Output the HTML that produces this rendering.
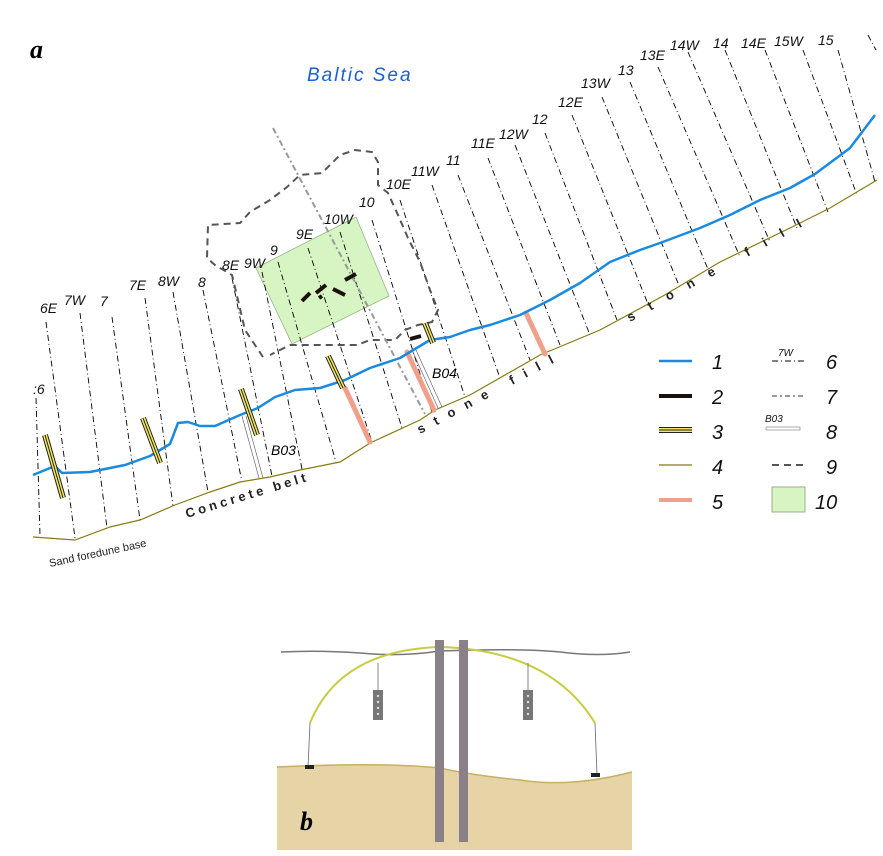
<!DOCTYPE html>
<html><head><meta charset="utf-8"><style>body{margin:0;background:#fff}svg{display:block}</style></head><body>
<svg width="883" height="856" viewBox="0 0 883 856" xmlns="http://www.w3.org/2000/svg" font-family="Liberation Sans, sans-serif">
<text x="30" y="58" font-family="Liberation Serif, serif" font-style="italic" font-weight="bold" font-size="26">a</text>
<text x="307" y="81" fill="#1a5fd0" font-size="19" font-style="italic" letter-spacing="2">Baltic Sea</text>
<polygon points="256,268 356,217 389,296 292,344" fill="#d6f5c2" stroke="#9ab08a" stroke-width="0.8"/>
<g stroke="#000" stroke-width="0.9" stroke-dasharray="6,3,1,3" fill="none">
<line x1="36" y1="398" x2="40" y2="535"/><line x1="46" y1="322" x2="75" y2="538"/>
<line x1="80" y1="313" x2="107" y2="528"/><line x1="112" y1="317" x2="140" y2="520"/>
<line x1="145" y1="298" x2="173" y2="506"/><line x1="173" y1="292" x2="208" y2="492"/>
<line x1="203" y1="290" x2="242" y2="482"/><line x1="232" y1="278" x2="272" y2="476"/>
<line x1="262" y1="272" x2="302" y2="469"/><line x1="278" y1="262" x2="336" y2="462"/>
<line x1="308" y1="248" x2="372" y2="442"/><line x1="340" y1="232" x2="402" y2="428"/>
<line x1="372" y1="220" x2="432" y2="412"/><line x1="400" y1="200" x2="465" y2="397"/>
<line x1="432" y1="185" x2="500" y2="378"/><line x1="458" y1="175" x2="530" y2="360"/>
<line x1="488" y1="158" x2="560" y2="345"/><line x1="515" y1="145" x2="590" y2="335"/>
<line x1="545" y1="133" x2="617" y2="320"/><line x1="572" y1="115" x2="648" y2="304"/>
<line x1="602" y1="97" x2="680" y2="288"/><line x1="630" y1="82" x2="710" y2="274"/>
<line x1="658" y1="67" x2="740" y2="257"/><line x1="688" y1="52" x2="770" y2="242"/>
<line x1="725" y1="50" x2="797" y2="228"/><line x1="765" y1="50" x2="828" y2="212"/>
<line x1="803" y1="50" x2="857" y2="195"/><line x1="838" y1="50" x2="875" y2="182"/>
<line x1="868" y1="35" x2="876" y2="50"/>
</g>
<g font-size="14" font-style="italic" fill="#111">
<text x="33" y="394">:6</text><text x="40" y="313">6E</text><text x="64" y="305">7W</text><text x="100" y="306">7</text>
<text x="129" y="290">7E</text><text x="158" y="286">8W</text><text x="198" y="287">8</text>
<text x="222" y="270">8E</text><text x="244" y="268">9W</text><text x="270" y="255">9</text>
<text x="296" y="239">9E</text><text x="324" y="224">10W</text><text x="359" y="207">10</text>
<text x="386" y="189">10E</text><text x="411" y="176">11W</text><text x="446" y="165">11</text>
<text x="471" y="148">11E</text><text x="499" y="139">12W</text><text x="532" y="124">12</text>
<text x="558" y="107">12E</text><text x="581" y="88">13W</text><text x="618" y="75">13</text>
<text x="640" y="60">13E</text><text x="670" y="50">14W</text><text x="713" y="48">14</text>
<text x="741" y="48">14E</text><text x="774" y="46">15W</text><text x="818" y="45">15</text>
</g>
<polyline points="263,357 255,345 245,330 238,300 232,275 215,265 207,258 208,225 240,223 250,212 270,200 287,187 300,175 322,173 340,155 355,150 372,152 378,162 378,185 388,193 398,215 408,238 420,262 430,290 438,310 432,322 418,325 405,330 395,340 370,340 357,345 290,345 270,355" fill="none" stroke="#555" stroke-width="2" stroke-dasharray="7,5"/>
<line x1="273" y1="128" x2="425" y2="414" stroke="#999" stroke-width="2" stroke-dasharray="6,3,2,3"/>
<polyline points="33,537 75,540 110,527 140,520 175,505 210,492 240,482 270,477 300,470 340,462 370,443 420,420 435,410 470,395 540,355 600,330 663,296 720,262 790,228 830,208 877,180" fill="none" stroke="#8a7a12" stroke-width="1.2"/>
<g stroke="#555" stroke-width="0.6" fill="none">
<line x1="242" y1="416" x2="259" y2="478"/><line x1="246" y1="416" x2="263" y2="478"/>
<line x1="412" y1="350" x2="438" y2="408"/><line x1="416" y1="350" x2="442" y2="407"/>
</g>
<text x="271" y="455" font-size="14" font-style="italic">B03</text>
<text x="432" y="378" font-size="14" font-style="italic">B04</text>
<g stroke="#f0a08a" stroke-width="5" stroke-linecap="round">
<line x1="345" y1="388" x2="370" y2="442"/><line x1="407" y1="352" x2="434" y2="410"/><line x1="526" y1="313" x2="545" y2="354"/>
</g>
<polyline points="33,475 55,466 62,473 90,472 125,465 150,456 170,444 178,423 188,422 200,426 215,426 240,415 258,408 275,397 295,390 320,388 345,380 370,368 400,358 430,340 450,337 470,330 490,325 520,315 550,300 580,283 610,262 640,250 660,243 700,228 730,215 760,200 790,188 815,174 850,148 875,115" fill="none" stroke="#1a8ae0" stroke-width="2.5" stroke-linejoin="round"/>
<g stroke-linecap="butt">
<g stroke="#222" stroke-width="6"><line x1="45" y1="435" x2="63" y2="498"/><line x1="143" y1="418" x2="160" y2="463"/><line x1="241" y1="389" x2="257" y2="435"/><line x1="328" y1="356" x2="343" y2="388"/><line x1="425" y1="323" x2="433" y2="343"/></g>
<g stroke="#f5e860" stroke-width="4"><line x1="45" y1="435" x2="63" y2="498"/><line x1="143" y1="418" x2="160" y2="463"/><line x1="241" y1="389" x2="257" y2="435"/><line x1="328" y1="356" x2="343" y2="388"/><line x1="425" y1="323" x2="433" y2="343"/></g>
<g stroke="#222" stroke-width="1"><line x1="45" y1="435" x2="63" y2="498"/><line x1="143" y1="418" x2="160" y2="463"/><line x1="241" y1="389" x2="257" y2="435"/><line x1="328" y1="356" x2="343" y2="388"/><line x1="425" y1="323" x2="433" y2="343"/></g>
</g>
<g stroke="#1a120a" stroke-width="4">
<line x1="302" y1="301" x2="310" y2="293"/><line x1="316" y1="293" x2="326" y2="285"/><line x1="333" y1="289" x2="345" y2="295"/><line x1="345" y1="280" x2="356" y2="274"/><line x1="319" y1="298" x2="322" y2="296"/><line x1="410" y1="339" x2="421" y2="336"/>
</g>
<g font-size="13" fill="#222" font-weight="bold">
<text transform="translate(50,567) rotate(-12)" font-size="11" font-weight="normal">Sand foredune base</text>
<text transform="translate(187,518) rotate(-17)" letter-spacing="3.5">Concrete belt</text>
<text transform="translate(420,434) rotate(-28)" letter-spacing="11">stone fill</text>
<text transform="translate(630,322) rotate(-29)" letter-spacing="16">stone fill</text>
</g>
<g font-size="20" font-style="italic" fill="#111">
<line x1="659" y1="361" x2="692" y2="361" stroke="#1a8ae0" stroke-width="2.5"/><text x="712" y="369">1</text>
<line x1="659" y1="396" x2="692" y2="396" stroke="#1a120a" stroke-width="4"/><text x="712" y="404">2</text>
<line x1="659" y1="430" x2="692" y2="430" stroke="#222" stroke-width="6"/><line x1="659" y1="430" x2="692" y2="430" stroke="#f5e860" stroke-width="4"/><line x1="659" y1="430" x2="692" y2="430" stroke="#222" stroke-width="1"/><text x="712" y="439">3</text>
<line x1="659" y1="465" x2="692" y2="465" stroke="#8a7a12" stroke-width="1.2"/><text x="712" y="474">4</text>
<line x1="659" y1="500" x2="692" y2="500" stroke="#f0a08a" stroke-width="4"/><text x="712" y="509">5</text>
<text x="778" y="356" font-size="10">7W</text><line x1="772" y1="361" x2="805" y2="361" stroke="#000" stroke-dasharray="6,3,1,3"/><text x="826" y="369">6</text>
<line x1="772" y1="396" x2="805" y2="396" stroke="#999" stroke-width="2" stroke-dasharray="5,3,2,3"/><text x="826" y="404">7</text>
<text x="765" y="422" font-size="10">B03</text><rect x="766" y="427" width="34" height="3" fill="none" stroke="#777" stroke-width="0.6"/><text x="826" y="439">8</text>
<line x1="772" y1="465" x2="805" y2="465" stroke="#555" stroke-width="2" stroke-dasharray="7,5"/><text x="826" y="474">9</text>
<rect x="772" y="487" width="33" height="25" fill="#d6f5c2" stroke="#9ab08a"/><text x="815" y="509">10</text>
</g>
<path d="M277,767 Q380,762 440,768 Q470,775 520,780 Q570,788 632,772 L632,850 L277,850 Z" fill="#e6d4a6"/>
<path d="M277,767 Q380,762 440,768 Q470,775 520,780 Q570,788 632,772" fill="none" stroke="#c9b060" stroke-width="1.5"/>
<path d="M281,652 Q320,650 360,653 Q400,657 440,651 Q520,648 560,652 Q600,657 630,652" fill="none" stroke="#777" stroke-width="1.5"/>
<path d="M310,723 Q340,650 440,647 Q550,650 595,723" fill="none" stroke="#c8cc40" stroke-width="2"/>
<path d="M310,723 L308,767 M595,723 L597,775 M378,663 L378,690 M528,663 L528,690" stroke="#666" stroke-width="0.8" fill="none"/>
<rect x="373" y="690" width="10" height="30" fill="#777"/><rect x="523" y="690" width="10" height="30" fill="#777"/>
<g fill="#ddd"><circle cx="378" cy="696" r="1.2"/><circle cx="378" cy="702" r="1.2"/><circle cx="378" cy="708" r="1.2"/><circle cx="378" cy="714" r="1.2"/><circle cx="528" cy="696" r="1.2"/><circle cx="528" cy="702" r="1.2"/><circle cx="528" cy="708" r="1.2"/><circle cx="528" cy="714" r="1.2"/></g>
<rect x="305" y="765" width="9" height="4" fill="#222"/><rect x="591" y="773" width="9" height="4" fill="#222"/>
<rect x="435" y="640" width="9" height="202" fill="#8a8088"/><rect x="459" y="640" width="9" height="202" fill="#8a8088"/>
<text x="300" y="830" font-family="Liberation Serif, serif" font-style="italic" font-weight="bold" font-size="26">b</text>
</svg>
</body></html>
